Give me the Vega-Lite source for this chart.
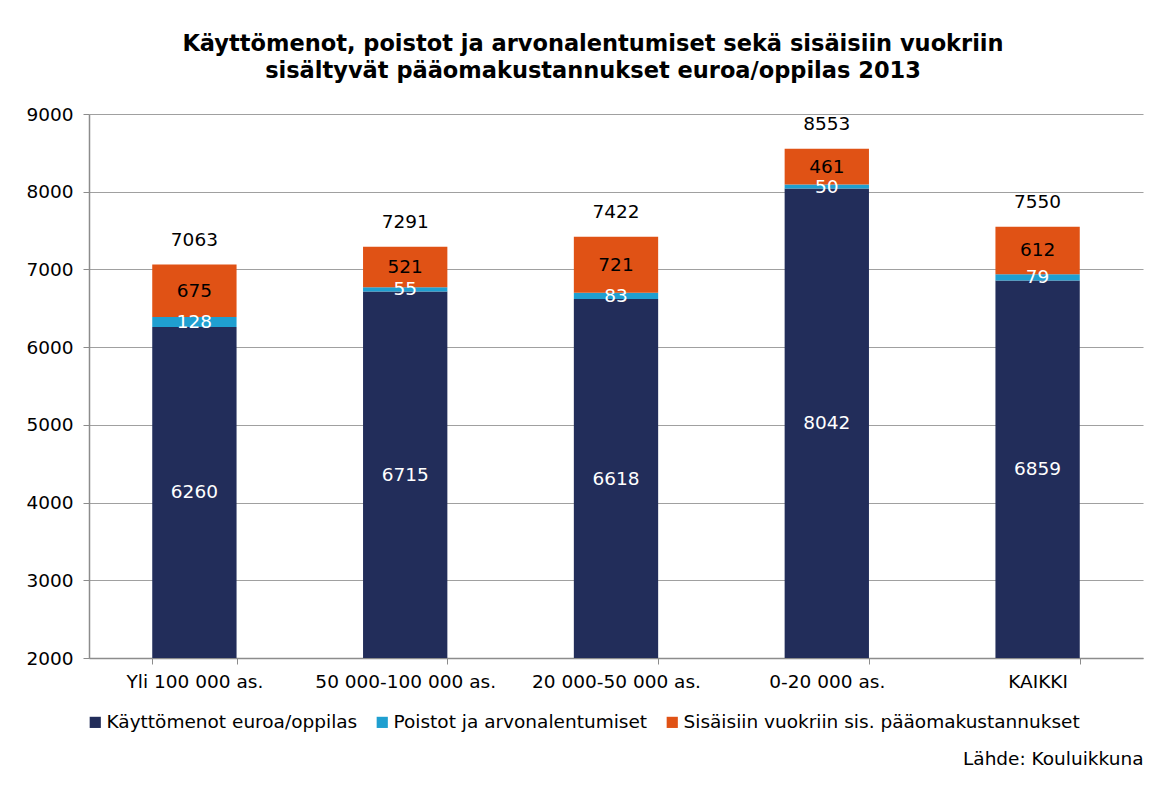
{
  "$schema": "https://vega.github.io/schema/vega-lite/v6.json",
  "autosize": "none",
  "width": 1054,
  "height": 544,
  "padding": {"left": 89, "top": 114, "right": 26, "bottom": 131},
  "background": "white",
  "config": {
    "font": "DejaVu Sans",
    "view": {"stroke": null}
  },
  "title": {
    "text": ["Käyttömenot, poistot ja arvonalentumiset sekä sisäisiin vuokriin", "sisältyvät pääomakustannukset euroa/oppilas 2013"],
    "font": "DejaVu Sans",
    "fontSize": 22.5,
    "fontWeight": "bold",
    "lineHeight": 27,
    "anchor": "middle",
    "frame": "group",
    "dx": -23,
    "offset": 23,
    "color": "black"
  },
  "data": {
    "values": [
      {"ryhma": "Yli 100 000 as.", "sarja": "Käyttömenot euroa/oppilas", "jarj": 1, "arvo": 6260},
      {"ryhma": "Yli 100 000 as.", "sarja": "Poistot ja arvonalentumiset", "jarj": 2, "arvo": 128},
      {"ryhma": "Yli 100 000 as.", "sarja": "Sisäisiin vuokriin sis. pääomakustannukset", "jarj": 3, "arvo": 675},
      {"ryhma": "50 000-100 000 as.", "sarja": "Käyttömenot euroa/oppilas", "jarj": 1, "arvo": 6715},
      {"ryhma": "50 000-100 000 as.", "sarja": "Poistot ja arvonalentumiset", "jarj": 2, "arvo": 55},
      {"ryhma": "50 000-100 000 as.", "sarja": "Sisäisiin vuokriin sis. pääomakustannukset", "jarj": 3, "arvo": 521},
      {"ryhma": "20 000-50 000 as.", "sarja": "Käyttömenot euroa/oppilas", "jarj": 1, "arvo": 6618},
      {"ryhma": "20 000-50 000 as.", "sarja": "Poistot ja arvonalentumiset", "jarj": 2, "arvo": 83},
      {"ryhma": "20 000-50 000 as.", "sarja": "Sisäisiin vuokriin sis. pääomakustannukset", "jarj": 3, "arvo": 721},
      {"ryhma": "0-20 000 as.", "sarja": "Käyttömenot euroa/oppilas", "jarj": 1, "arvo": 8042},
      {"ryhma": "0-20 000 as.", "sarja": "Poistot ja arvonalentumiset", "jarj": 2, "arvo": 50},
      {"ryhma": "0-20 000 as.", "sarja": "Sisäisiin vuokriin sis. pääomakustannukset", "jarj": 3, "arvo": 461},
      {"ryhma": "KAIKKI", "sarja": "Käyttömenot euroa/oppilas", "jarj": 1, "arvo": 6859},
      {"ryhma": "KAIKKI", "sarja": "Poistot ja arvonalentumiset", "jarj": 2, "arvo": 79},
      {"ryhma": "KAIKKI", "sarja": "Sisäisiin vuokriin sis. pääomakustannukset", "jarj": 3, "arvo": 612}
    ]
  },
  "encoding": {
    "x": {
      "field": "ryhma",
      "type": "nominal",
      "sort": null,
      "scale": {"paddingInner": 0.6, "paddingOuter": 0.3},
      "axis": {
        "title": "Lähde: Kouluikkuna",
        "titleAnchor": "end",
        "titleAlign": "right",
        "titleX": 1054,
        "titleY": 100,
        "titleBaseline": "middle",
        "titleFontSize": 18.5,
        "titleFontWeight": "normal",
        "titleFont": "DejaVu Sans",
        "titleColor": "black",
        "labelAngle": 0,
        "labelFontSize": 18.5,
        "labelColor": "black",
        "labelPadding": 8,
        "labelLimit": 300,
        "tickBand": "extent",
        "tickSize": 6,
        "tickColor": "#8c8c8c",
        "domainColor": "#8c8c8c",
        "domainWidth": 1.5,
        "grid": false
      }
    }
  },
  "layer": [
    {
      "mark": {"type": "bar", "clip": true},
      "encoding": {
        "y": {
          "field": "arvo",
          "type": "quantitative",
          "stack": "zero",
          "scale": {"domain": [2000, 9000], "nice": false, "zero": false},
          "axis": {
            "title": null,
            "values": [2000, 3000, 4000, 5000, 6000, 7000, 8000, 9000],
            "format": "d",
            "labelFontSize": 18.5,
            "labelColor": "black",
            "labelPadding": 10,
            "tickSize": 6,
            "tickColor": "#8c8c8c",
            "domainColor": "#8c8c8c",
            "domainWidth": 1.5,
            "gridColor": "#a0a0a0",
            "gridWidth": 1.2
          }
        },
        "order": {"field": "jarj", "type": "quantitative", "sort": "ascending"},
        "color": {
          "field": "sarja",
          "type": "nominal",
          "sort": null,
          "scale": {
            "domain": ["Käyttömenot euroa/oppilas", "Poistot ja arvonalentumiset", "Sisäisiin vuokriin sis. pääomakustannukset"],
            "range": ["#222d5a", "#1f9fd0", "#e05215"]
          },
          "legend": {
            "title": null,
            "orient": "none",
            "direction": "horizontal",
            "legendX": -3,
            "legendY": 599,
            "symbolType": "square",
            "symbolSize": 125,
            "symbolStrokeWidth": 0,
            "labelFontSize": 18.5,
            "labelColor": "black",
            "labelOffset": 2,
            "columnPadding": 15,
            "labelLimit": 600
          }
        }
      }
    },
    {
      "transform": [
        {"stack": "arvo", "groupby": ["ryhma"], "sort": [{"field": "jarj", "order": "ascending"}], "as": ["a0", "a1"]},
        {"calculate": "(max(datum.a0, 2000) + datum.a1) / 2", "as": "keski"}
      ],
      "mark": {"type": "text", "fontSize": 18.5, "baseline": "middle", "align": "center"},
      "encoding": {
        "y": {"field": "keski", "type": "quantitative"},
        "text": {"field": "arvo", "type": "quantitative", "format": "d"},
        "color": {
          "condition": {"test": "datum.jarj === 3", "value": "black"},
          "value": "white"
        }
      }
    },
    {
      "transform": [
        {"aggregate": [{"op": "sum", "field": "arvo", "as": "yht"}], "groupby": ["ryhma"]}
      ],
      "mark": {"type": "text", "fontSize": 18.5, "baseline": "middle", "align": "center", "dy": -25, "color": "black"},
      "encoding": {
        "y": {"field": "yht", "type": "quantitative"},
        "text": {"field": "yht", "type": "quantitative", "format": "d"}
      }
    }
  ]
}
